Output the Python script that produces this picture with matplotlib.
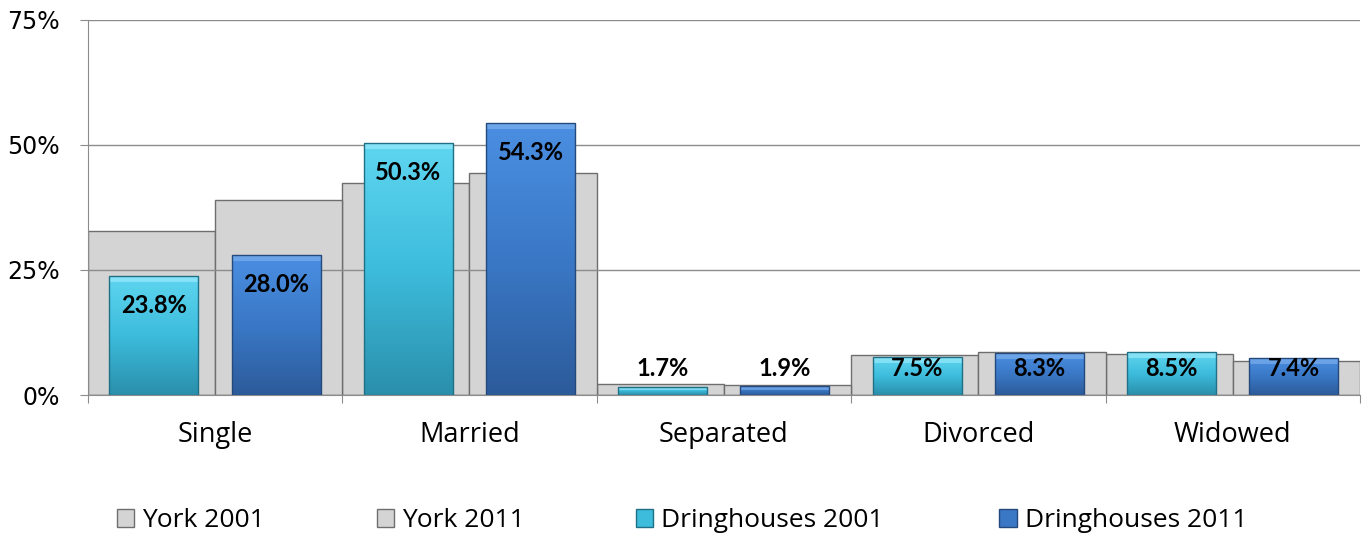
import matplotlib
matplotlib.use('Agg')
import matplotlib.pyplot as plt
import numpy as np
from matplotlib.colors import LinearSegmentedColormap
from matplotlib.patches import Patch, Rectangle

plt.rcParams['font.family'] = ['Open Sans', 'DejaVu Sans']

categories = ['Single', 'Married', 'Separated', 'Divorced', 'Widowed']
york_2001 = [32.7, 42.3, 2.2, 8.0, 8.1]
york_2011 = [38.9, 44.3, 2.1, 8.5, 6.7]
dring_2001 = [23.8, 50.3, 1.7, 7.5, 8.5]
dring_2011 = [28.0, 54.3, 1.9, 8.3, 7.4]
series_names = ['York 2001', 'York 2011', 'Dringhouses 2001', 'Dringhouses 2011']

grey = '#d4d4d4'
grey_edge = '#6e6e6e'
cyan = ('#2a8fab', '#3dbcdc', '#5fd6f0')
blue = ('#2c5b9a', '#3a78c6', '#4b8fe2')

fig = plt.figure(figsize=(13.71, 5.37), dpi=100)
ax = fig.add_axes([0.064, 0.2644, 0.928, 0.699])

x = np.arange(len(categories))

# wide grey York bars (behind)
ax.bar(x - 0.25, york_2001, width=0.5, color=grey, edgecolor=grey_edge, linewidth=1.0, zorder=1)
ax.bar(x + 0.25, york_2011, width=0.5, color=grey, edgecolor=grey_edge, linewidth=1.0, zorder=1)


def gradient_bars(bars, cols, light):
    cmap = LinearSegmentedColormap.from_list('g', list(cols))
    grad = np.linspace(0, 1, 256).reshape(-1, 1)
    for b in bars:
        x0, y0 = b.get_xy()
        w, h = b.get_width(), b.get_height()
        im = ax.imshow(grad, cmap=cmap, extent=[x0, x0 + w, y0, y0 + h],
                       origin='lower', aspect='auto', zorder=3, interpolation='bicubic')
        im.set_clip_path(b)
        b.set_facecolor('none')
        # bevel highlight along the top
        bev = min(1.2, h * 0.45)
        ax.add_patch(Rectangle((x0, y0 + h - bev), w, bev, facecolor=light,
                               edgecolor='none', alpha=0.55, zorder=3.5))


b1 = ax.bar(x - 0.24, dring_2001, width=0.35, edgecolor='#1f6f85', linewidth=1.0, zorder=4)
b2 = ax.bar(x + 0.24, dring_2011, width=0.35, edgecolor='#244a7d', linewidth=1.0, zorder=4)
gradient_bars(b1, cyan, '#a8f0ff')
gradient_bars(b2, blue, '#8ab8f2')

# value labels
for xs, vals in ((x - 0.24, dring_2001), (x + 0.24, dring_2011)):
    for xi, v in zip(xs, vals):
        if v >= 10:
            ax.annotate(f'{v:.1f}%', (xi, v), xytext=(0, -21), textcoords='offset points',
                        ha='center', va='center', fontsize=17, fontweight='bold',
                        family=['Lato', 'DejaVu Sans'], zorder=6)
        else:
            ax.text(xi, 5.2, f'{v:.1f}%', ha='center', va='center',
                    fontsize=17, fontweight='bold', family=['Lato', 'DejaVu Sans'], zorder=6)

ax.set_xlim(-0.5, len(categories) - 0.5)
ax.set_ylim(0, 75)
ax.set_yticks([0, 25, 50, 75])
ax.set_yticklabels(['0%', '25%', '50%', '75%'], family=['DejaVu Sans'])
ax.yaxis.grid(True, color='#8c8c8c', linewidth=1.0)
for gl in ax.get_ygridlines():
    gl.set_zorder(1.5)

ax.set_xticks(np.arange(-0.5, len(categories)), minor=False)
ax.set_xticklabels([])
ax.set_xticks(x, minor=True)
ax.set_xticklabels(categories, minor=True)
ax.tick_params(axis='x', which='major', length=6, color='#8c8c8c', direction='out')
ax.tick_params(axis='x', which='minor', length=0, pad=19, labelsize=19.5)
ax.tick_params(axis='y', length=6, color='#8c8c8c', pad=14, labelsize=17)

for s in ('top', 'right'):
    ax.spines[s].set_visible(False)
for s in ('left', 'bottom'):
    ax.spines[s].set_color('#8c8c8c')
    ax.spines[s].set_zorder(5)

handles = [Patch(facecolor=grey, edgecolor=grey_edge),
           Patch(facecolor=grey, edgecolor=grey_edge),
           Patch(facecolor=cyan[1], edgecolor='#1f6f85'),
           Patch(facecolor=blue[1], edgecolor='#244a7d')]
legend_x = [0.085, 0.275, 0.464, 0.729]
for h, name, lx in zip(handles, series_names, legend_x):
    leg = fig.legend([h], [name], loc='center left', bbox_to_anchor=(lx, 0.03),
                     frameon=False, fontsize=19, handlelength=0.65, handleheight=0.65,
                     handletextpad=0.3, borderpad=0, borderaxespad=0)

fig.savefig('out.png', dpi=100)
